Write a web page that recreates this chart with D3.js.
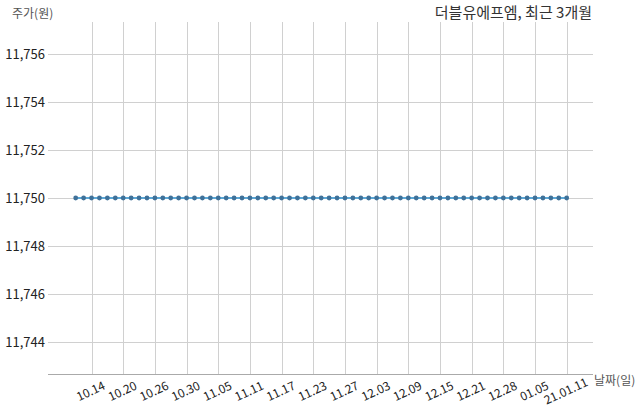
<!DOCTYPE html>
<html>
<head>
<meta charset="utf-8">
<title>더블유에프엠, 최근 3개월</title>
<script src="https://cdn.jsdelivr.net/npm/d3@7"></script>
<style>
body { margin: 0; background: #fff; }
svg { font-family: "Noto Sans CJK KR", "Noto Sans", sans-serif; }
.grid line { stroke: #d0d0d0; stroke-width: 1px; }
</style>
</head>
<body>
<script>
// trading days, 2020.10.12 ~ 2021.01.11
var dates = [
  "10.12","10.13","10.14","10.15","10.16",
  "10.19","10.20","10.21","10.22","10.23",
  "10.26","10.27","10.28","10.29","10.30",
  "11.02","11.03","11.04","11.05","11.06",
  "11.09","11.10","11.11","11.12","11.13",
  "11.16","11.17","11.18","11.19","11.20",
  "11.23","11.24","11.25","11.26","11.27",
  "11.30","12.01","12.02","12.03","12.04",
  "12.07","12.08","12.09","12.10","12.11",
  "12.14","12.15","12.16","12.17","12.18",
  "12.21","12.22","12.23","12.24",
  "12.28","12.29","12.30",
  "01.04","01.05","01.06","01.07","01.08",
  "21.01.11"
];

var prices = [
  11750,11750,11750,11750,11750,
  11750,11750,11750,11750,11750,
  11750,11750,11750,11750,11750,
  11750,11750,11750,11750,11750,
  11750,11750,11750,11750,11750,
  11750,11750,11750,11750,11750,
  11750,11750,11750,11750,11750,
  11750,11750,11750,11750,11750,
  11750,11750,11750,11750,11750,
  11750,11750,11750,11750,11750,
  11750,11750,11750,11750,
  11750,11750,11750,
  11750,11750,11750,11750,11750,
  11750
];

var xTicks = ["10.14","10.20","10.26","10.30","11.05","11.11","11.17","11.23",
              "11.27","12.03","12.09","12.15","12.21","12.28","01.05","21.01.11"];
var yTicks = [11744, 11746, 11748, 11750, 11752, 11754, 11756];

var width = 640, height = 414;
var plotLeft = 48, plotRight = 593, plotTop = 22, plotBottom = 374;

var svg = d3.select("body").append("svg")
    .attr("width", width)
    .attr("height", height);

var x = d3.scalePoint()
    .domain(dates)
    .range([75.7, 566.7]);

var y = d3.scaleLinear()
    .domain([11742.667, 11757.333])
    .range([plotBottom, plotTop]);

// grid
var grid = svg.append("g").attr("class", "grid");

grid.selectAll(".hline")
    .data(yTicks)
  .enter().append("line")
    .attr("x1", plotLeft)
    .attr("x2", plotRight)
    .attr("y1", function(d) { return Math.round(y(d)) + 0.5; })
    .attr("y2", function(d) { return Math.round(y(d)) + 0.5; });

grid.selectAll(".vline")
    .data(xTicks)
  .enter().append("line")
    .attr("x1", function(d) { return Math.round(x(d)) + 0.5; })
    .attr("x2", function(d) { return Math.round(x(d)) + 0.5; })
    .attr("y1", plotTop)
    .attr("y2", plotBottom);

// bottom axis line
svg.append("line")
    .attr("x1", plotLeft)
    .attr("x2", plotRight)
    .attr("y1", plotBottom + 0.5)
    .attr("y2", plotBottom + 0.5)
    .attr("stroke", "#aaa");

// y tick labels
var fmt = d3.format(",");
svg.append("g").selectAll("text")
    .data(yTicks)
  .enter().append("text")
    .attr("x", 45)
    .attr("y", function(d) { return y(d); })
    .attr("dy", "0.35em")
    .attr("text-anchor", "end")
    .attr("font-size", 13)
    .attr("fill", "#222")
    .text(function(d) { return fmt(d); });

// x tick labels
svg.append("g").selectAll("text")
    .data(xTicks)
  .enter().append("text")
    .attr("transform", function(d) { return "translate(" + (x(d) + 1) + "," + 395 + ")rotate(-25)"; })
    .attr("text-anchor", "middle")
    .attr("font-size", 12)
    .attr("fill", "#222")
    .text(function(d) { return d; });

// line + dots
var line = d3.line()
    .x(function(d, i) { return x(dates[i]); })
    .y(function(d) { return y(d); });

svg.append("path")
    .datum(prices)
    .attr("d", line)
    .attr("fill", "none")
    .attr("stroke", "#5aa7d6")
    .attr("stroke-width", 2);

svg.append("g").selectAll("circle")
    .data(prices)
  .enter().append("circle")
    .attr("cx", function(d, i) { return x(dates[i]); })
    .attr("cy", function(d) { return y(d); })
    .attr("r", 2.4)
    .attr("fill", "#3f7199");

// labels
svg.append("text")
    .attr("x", 12)
    .attr("y", 18)
    .attr("font-size", 12)
    .attr("fill", "#555")
    .text("주가(원)");

svg.append("text")
    .attr("x", 594)
    .attr("y", 385)
    .attr("font-size", 12)
    .attr("fill", "#555")
    .text("날짜(일)");

svg.append("text")
    .attr("x", 592)
    .attr("y", 18)
    .attr("text-anchor", "end")
    .attr("font-size", 15)
    .attr("fill", "#333")
    .text("더블유에프엠, 최근 3개월");
</script>
</body>
</html>
